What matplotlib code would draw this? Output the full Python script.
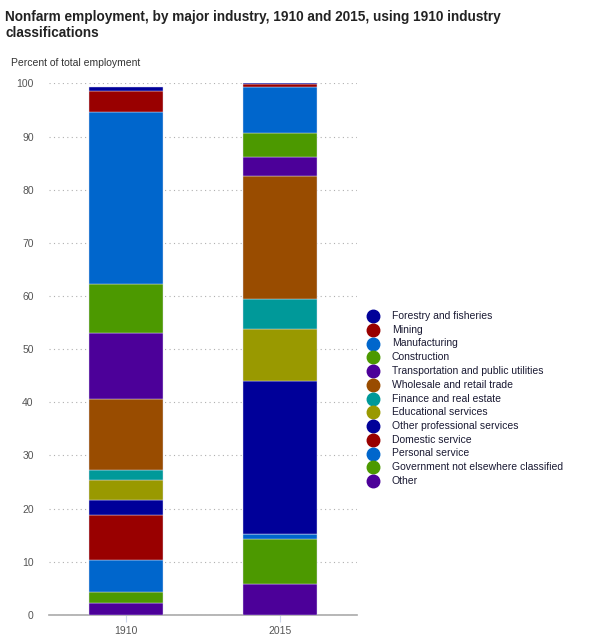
import matplotlib
matplotlib.use("Agg")
import matplotlib.pyplot as plt
from matplotlib.lines import Line2D
import numpy as np

plt.rcParams['font.family'] = ['Liberation Sans', 'DejaVu Sans']

years = ["1910", "2015"]
# legend order (top of stack first)
industries = [
    "Forestry and fisheries",
    "Mining",
    "Manufacturing",
    "Construction",
    "Transportation and public utilities",
    "Wholesale and retail trade",
    "Finance and real estate",
    "Educational services",
    "Other professional services",
    "Domestic service",
    "Personal service",
    "Government not elsewhere classified",
    "Other",
]
colors = ["#000099", "#990000", "#0066cc", "#4c9900", "#4c0099", "#994c00",
          "#009999", "#999900", "#000099", "#990000", "#0066cc", "#4c9900", "#4c0099"]
v1910 = [0.8, 3.9, 32.5, 9.1, 12.5, 13.4, 1.9, 3.6, 2.9, 8.5, 5.9, 2.2, 2.2]
v2015 = [0.2, 0.6, 8.7, 4.4, 3.7, 23.1, 5.6, 9.8, 28.7, 0.1, 1.0, 8.3, 5.9]
yticks = [0, 10, 20, 30, 40, 50, 60, 70, 80, 90, 100]

W, H = 592, 637
fig = plt.figure(figsize=(W / 100, H / 100), dpi=100)
ax = fig.add_axes([49 / W, 1 - 614.9 / H, (357 - 49) / W, (614.9 - 83.4) / H])

x = np.arange(len(years))
bottoms = np.zeros(len(years))
# stack from bottom (last in legend) to top
for name, col, a, b in reversed(list(zip(industries, colors, v1910, v2015))):
    vals = np.array([a, b])
    ax.bar(x, vals, bottom=bottoms, width=0.48, color=col,
           edgecolor="#dcdcf0", linewidth=0.3, zorder=3)
    bottoms += vals

ax.set_xlim(-0.5, 1.5)
ax.set_ylim(0, 100)
ax.set_yticks(yticks)
ax.set_yticklabels([str(t) for t in yticks], fontsize=7.5, color="#555555")
ax.set_xticks(x)
ax.set_xticklabels(years, fontsize=7.5, color="#555555")
ax.tick_params(axis="y", length=0, pad=11)
ax.tick_params(axis="x", length=5, color="#ccd6eb", pad=3)
ax.yaxis.grid(True, linestyle=(0, (1, 3)), color="#b0b0b0", linewidth=0.8, zorder=0)
for s in ["top", "right", "left"]:
    ax.spines[s].set_visible(False)
ax.spines["bottom"].set_color("#aaaaaa")
ax.spines["bottom"].set_linewidth(1.2)

fig.text(5 / W, 1 - 25 / H,
         "Nonfarm employment, by major industry, 1910 and 2015, using 1910 industry\nclassifications",
         fontsize=9.8, fontweight="bold", color="#222222", va="center", ha="left",
         linespacing=1.25)
fig.text(11 / W, 1 - 63 / H, "Percent of total employment", fontsize=7.5,
         color="#333333", va="center", ha="left")

# legend
for i, (name, col) in enumerate(zip(industries, colors)):
    yy = 1 - (316 + i * 13.75) / H
    fig.add_artist(Line2D([373 / W], [yy], marker="o", markersize=9,
                          color=col, linestyle="none", transform=fig.transFigure))
    fig.text(392 / W, yy, name, fontsize=7.5, color="#1a1a33", va="center", ha="left")

fig.savefig("out.png", dpi=100)
